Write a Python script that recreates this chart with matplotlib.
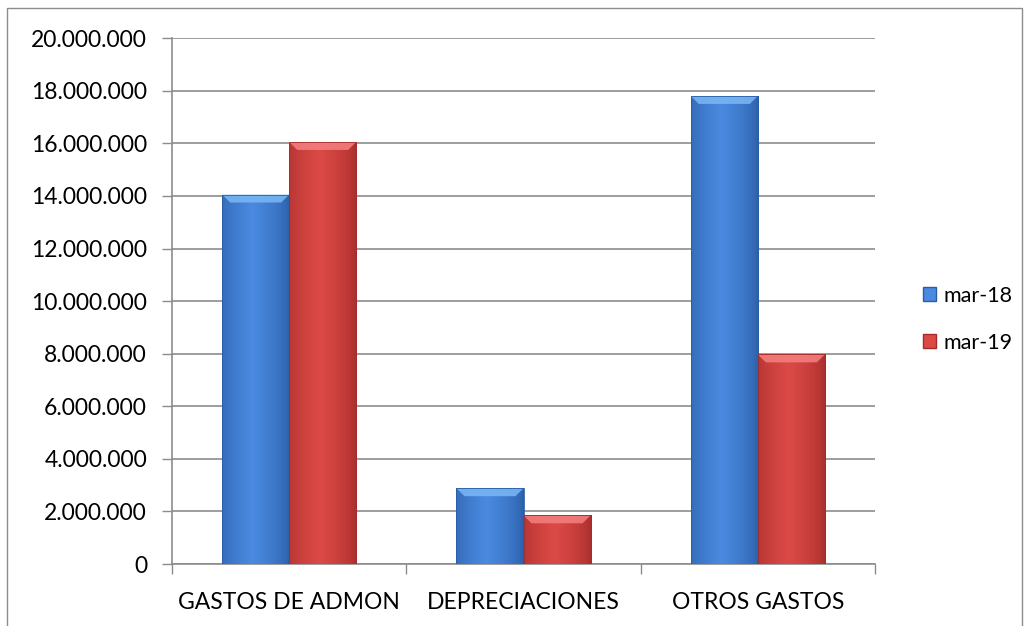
import numpy as np
import matplotlib
matplotlib.use("Agg")
import matplotlib.pyplot as plt
from matplotlib.patches import Rectangle, Patch
from matplotlib.ticker import FuncFormatter, MultipleLocator

plt.rcParams['font.family'] = ['Lato', 'DejaVu Sans']

# datos
categorias = ['GASTOS DE ADMON', 'DEPRECIACIONES', 'OTROS GASTOS']
series = ['mar-18', 'mar-19']
mar18 = [14050000, 2880000, 17800000]
mar19 = [16050000, 1850000, 7970000]

colores = {
    'mar-18': ('#2a5da6', '#4a8ae0', '#7ab8f5'),  # borde, centro, bisel
    'mar-19': ('#a52c2a', '#dc4a46', '#f58080'),
}

fig = plt.figure(figsize=(10.29, 6.26), dpi=100)
ax = fig.add_axes([0.1672, 0.099, 0.6831, 0.840])

# marco exterior del grafico
fig.patches.append(Rectangle((0.007, -0.01), 0.986, 0.998, transform=fig.transFigure,
                             fill=False, edgecolor='#8c8c8c', linewidth=1.0))

x = np.arange(len(categorias))
ancho = 0.286


def barra_degradada(patch, borde, centro, bisel):
    x0, y0 = patch.get_x(), patch.get_y()
    w, h = patch.get_width(), patch.get_height()
    # degradado horizontal: oscuro en los bordes, claro en el centro
    t = np.linspace(0, 1, 64)
    perfil = 1 - np.abs(t - 0.45) / 0.55
    perfil = np.clip(perfil, 0, 1) ** 0.6
    c0 = np.array(matplotlib.colors.to_rgb(borde))
    c1 = np.array(matplotlib.colors.to_rgb(centro))
    img = c0[None, :] + (c1 - c0)[None, :] * perfil[:, None]
    img = img[None, :, :]
    im = ax.imshow(img, extent=(x0, x0 + w, y0, y0 + h), aspect='auto', zorder=3,
                   interpolation='bilinear')
    im.set_clip_path(patch)
    # bisel superior
    alto_bisel = 0.3e6
    if h > alto_bisel * 2:
        ax.fill([x0, x0 + w, x0 + w * 0.88, x0 + w * 0.12],
                [y0 + h, y0 + h, y0 + h - alto_bisel, y0 + h - alto_bisel],
                color=bisel, zorder=4, linewidth=0, alpha=0.85)


for i, (nombre, valores) in enumerate(zip(series, [mar18, mar19])):
    borde, centro, bisel = colores[nombre]
    barras = ax.bar(x - ancho / 2 + i * ancho, valores, ancho, color='none',
                    edgecolor=borde, linewidth=0.6, zorder=5)
    for p in barras:
        barra_degradada(p, borde, centro, bisel)

ax.set_xlim(-0.5, 2.5)
ax.set_ylim(0, 20000000)
ax.yaxis.set_major_locator(MultipleLocator(2000000))
ax.yaxis.set_major_formatter(FuncFormatter(lambda v, _: f"{v:,.0f}".replace(",", ".")))
ax.set_xticks(x)
ax.set_xticklabels(categorias)
ax.set_xticks([-0.5, 0.5, 1.5, 2.5], minor=True)
ax.tick_params(axis='x', which='major', length=0, pad=20, labelsize=16.5)
ax.tick_params(axis='x', which='minor', length=7, color='#8c8c8c', width=1)
ax.tick_params(axis='y', length=7, color='#8c8c8c', width=1, labelsize=16.5, pad=11)

ax.grid(axis='y', color='#8c8c8c', linewidth=1.2, zorder=0)
ax.set_axisbelow(True)
for lado in ['top', 'right']:
    ax.spines[lado].set_visible(False)
ax.spines['left'].set_color('#8c8c8c')
ax.spines['bottom'].set_color('#8c8c8c')
ax.spines['left'].set_linewidth(1.2)
ax.spines['bottom'].set_linewidth(1.2)

manejadores = [Patch(facecolor=colores[s][1], edgecolor=colores[s][0]) for s in series]
fig.legend(manejadores, series, loc='center left', bbox_to_anchor=(0.878, 0.49),
           frameon=False, fontsize=15.5, handlelength=0.6, handleheight=0.6,
           handletextpad=0.35, labelspacing=1.25)

fig.savefig('out.png', dpi=100)
